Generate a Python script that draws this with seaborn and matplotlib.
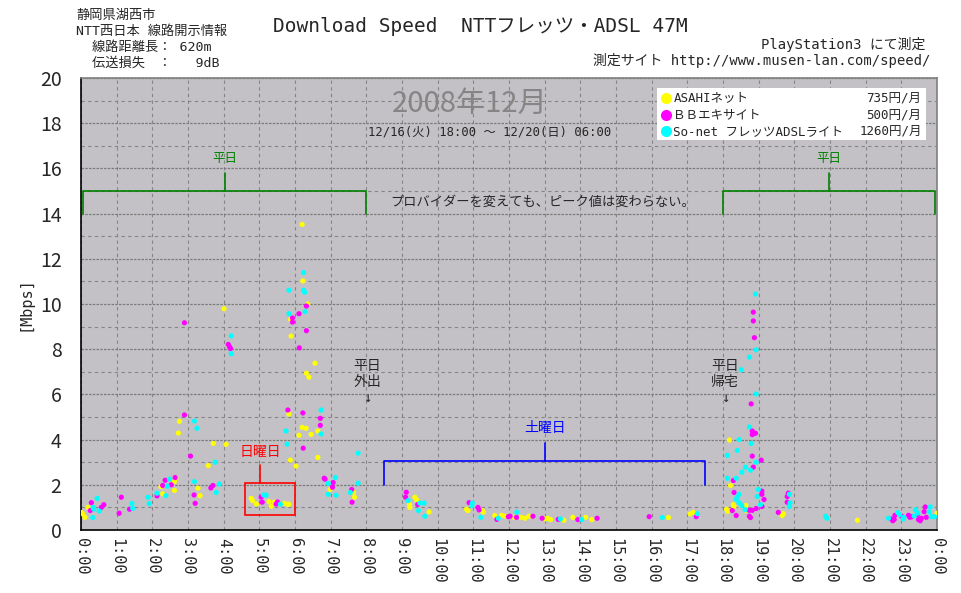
import matplotlib
matplotlib.use("Agg")
import numpy as np
import pandas as pd
import matplotlib.pyplot as plt
from matplotlib.patches import Rectangle
import seaborn as sns


# --- data (hour of day, Mbps) ---
providers = ["ASAHIネット", "ＢＢエキサイト", "So-net フレッツADSLライト"]
prices = ["735円/月", "500円/月", "1260円/月"]
colors = ["#ffff00", "#ff00ff", "#00ffff"]

asahi = [
    (0.0, 0.78), (0.05, 0.71), (0.11, 0.56), (0.2, 1.0),
    (2.24, 1.92), (2.29, 1.6), (2.62, 2.14), (2.62, 1.75), (2.66, 2.29),
    (2.73, 4.29), (2.76, 4.81), (3.28, 1.85), (3.34, 1.52), (3.57, 2.85),
    (3.71, 3.83), (4.01, 9.79), (4.07, 3.79), (4.77, 1.4), (4.81, 1.3),
    (4.92, 1.15), (5.27, 1.26), (5.33, 1.05), (5.42, 1.23), (5.51, 1.18),
    (5.7, 1.18), (5.79, 1.14), (5.83, 1.14), (5.83, 5.13), (5.87, 9.32),
    (5.89, 8.58), (5.87, 3.09), (6.03, 2.83), (6.11, 4.19), (6.2, 13.52),
    (6.22, 11.02), (6.2, 4.54), (6.31, 4.5), (6.36, 10.0), (6.32, 6.94),
    (6.39, 6.76), (6.45, 4.23), (6.56, 7.38), (6.64, 3.21), (6.64, 4.38),
    (6.98, 1.79), (7.64, 1.67), (7.67, 1.45),
    (9.21, 1.13), (9.22, 1.0), (9.36, 1.45), (9.41, 1.33), (9.76, 0.8),
    (10.81, 0.92), (10.85, 0.86), (11.25, 0.86), (11.28, 0.79), (11.6, 0.64),
    (11.79, 0.65), (11.89, 0.61), (12.15, 0.56), (12.34, 0.56), (12.45, 0.52),
    (12.56, 0.61), (13.01, 0.49), (13.08, 0.52), (13.17, 0.46), (13.54, 0.43),
    (13.79, 0.56), (14.15, 0.56), (14.32, 0.46),
    (16.47, 0.55), (17.08, 0.71), (17.16, 0.78),
    (18.1, 0.92), (18.13, 0.83), (18.18, 3.98), (18.21, 1.97), (18.29, 1.12),
    (18.31, 1.04), (18.64, 1.08), (18.64, 0.87), (19.66, 0.64), (19.69, 0.72),
    (21.77, 0.43), (24.0, 0.74),
]

bbexcite = [
    (0.26, 0.86), (0.29, 1.21), (0.57, 1.0), (0.64, 1.12), (1.07, 0.74),
    (1.13, 1.45), (1.36, 0.92), (2.13, 1.51), (2.29, 1.97), (2.36, 2.2),
    (2.53, 2.0), (2.64, 2.32), (2.9, 9.17), (2.9, 5.09), (3.07, 3.27),
    (3.17, 1.55), (3.2, 1.18), (3.64, 1.86), (3.7, 1.97), (4.13, 8.21),
    (4.17, 8.09), (4.19, 8.03), (5.05, 1.45), (5.08, 1.23), (5.47, 1.15),
    (5.51, 1.24), (5.8, 5.31), (5.93, 9.2), (5.93, 9.38), (6.11, 9.57),
    (6.12, 8.06), (6.22, 5.18), (6.23, 3.62), (6.32, 9.91), (6.32, 8.82),
    (6.71, 4.94), (6.71, 4.63), (6.82, 2.29), (6.84, 2.25), (7.07, 2.1),
    (7.05, 1.89), (7.59, 1.79), (7.6, 1.23),
    (9.1, 1.45), (9.12, 1.67), (9.44, 1.13), (10.88, 1.21), (11.13, 1.0),
    (11.16, 0.89), (11.66, 0.47), (11.98, 0.59), (12.03, 0.61), (12.21, 0.56),
    (12.67, 0.61), (12.93, 0.52), (13.38, 0.47), (13.93, 0.46), (14.47, 0.52),
    (15.93, 0.59), (17.25, 0.59),
    (18.26, 0.86), (18.29, 2.19), (18.31, 1.66), (18.37, 0.64), (18.74, 0.87),
    (18.74, 0.61), (18.77, 0.55), (18.79, 5.58), (18.82, 0.87), (18.82, 4.38),
    (18.82, 4.22), (18.82, 3.27), (18.85, 9.64), (18.85, 9.25), (18.85, 2.78),
    (18.88, 8.51), (18.91, 4.28), (18.93, 0.95), (19.07, 3.09), (19.09, 1.72),
    (19.09, 1.58), (19.09, 1.04), (19.15, 1.35), (19.55, 0.78), (19.8, 1.48),
    (19.8, 1.23), (19.83, 1.63),
    (22.72, 0.49), (22.76, 0.41), (22.8, 0.47), (22.82, 0.65), (23.01, 0.61),
    (23.2, 0.65), (23.24, 0.56), (23.3, 0.59), (23.45, 0.68), (23.48, 0.46),
    (23.53, 0.41), (23.56, 0.52), (23.64, 0.81), (23.67, 1.02), (23.7, 0.56),
]

sonet = [
    (0.33, 0.55), (0.34, 1.0), (0.36, 0.93), (0.45, 1.4), (0.51, 0.84),
    (1.43, 1.17), (1.45, 0.96), (1.88, 1.45), (1.91, 1.17), (2.13, 1.63),
    (2.38, 1.52), (2.42, 1.94), (2.48, 2.25), (3.18, 2.14), (3.18, 4.82),
    (3.25, 4.5), (3.76, 3.0), (3.79, 1.66), (3.88, 2.03), (4.21, 8.59),
    (4.21, 7.8), (5.12, 1.55), (5.19, 1.54), (5.59, 1.14), (5.75, 4.38),
    (5.78, 3.8), (5.83, 10.61), (5.83, 9.57), (6.24, 11.39), (6.24, 10.61),
    (6.27, 10.52), (6.28, 9.66), (6.73, 5.31), (6.73, 4.25), (6.93, 2.06),
    (6.93, 1.58), (7.13, 2.32), (7.15, 1.54), (7.55, 1.66), (7.77, 2.07),
    (7.77, 3.4),
    (9.17, 1.3), (9.46, 0.86), (9.5, 1.19), (9.62, 1.19), (9.64, 0.61),
    (10.96, 1.08), (10.97, 1.19), (11.21, 0.56), (11.7, 0.52), (12.22, 0.79),
    (13.44, 0.49), (14.04, 0.46), (16.3, 0.55), (17.28, 0.72),
    (18.12, 3.3), (18.12, 2.29), (18.37, 2.29), (18.37, 1.36), (18.4, 3.52),
    (18.4, 1.45), (18.45, 4.0), (18.45, 1.58), (18.45, 1.21), (18.51, 7.09),
    (18.53, 2.56), (18.53, 1.08), (18.62, 0.9), (18.63, 2.78), (18.74, 7.65),
    (18.74, 4.56), (18.77, 2.65), (18.79, 3.83), (18.91, 10.44), (18.93, 7.97),
    (18.93, 6.02), (18.93, 3.0), (18.96, 1.48), (18.99, 1.79), (19.05, 1.12),
    (19.86, 1.58), (19.88, 1.2), (19.86, 1.04),
    (20.88, 0.61), (20.91, 0.52), (22.64, 0.52), (22.9, 0.77), (22.95, 0.68),
    (23.05, 0.49), (23.07, 0.56), (23.36, 0.62), (23.4, 0.9), (23.46, 0.75),
    (23.78, 0.8), (23.81, 1.02), (23.84, 0.59), (23.93, 0.59),
]

hour_ticks = list(range(25))
hour_labels = [f"{h % 24}:00" for h in hour_ticks]

# annotation spans (hours / Mbps)
weekday_spans = [(0.05, 8.0), (18.0, 23.95)]
saturday_span = (8.5, 17.5)
sunday_box = (4.6, 6.0, 0.65, 2.1)

# --- build long table ---
rows = []
for name, pts in zip(providers, [asahi, bbexcite, sonet]):
    for h, v in pts:
        rows.append({"hour": h, "mbps": v, "provider": name})
df = pd.DataFrame(rows)

MONO = ["DejaVu Sans Mono", "Noto Sans CJK JP"]
sns.set_style("white")
plt.rcParams["font.family"] = MONO

fig = plt.figure(figsize=(9.61, 5.93), dpi=100)
ax = fig.add_axes([81 / 961, 1 - 530 / 593, 856 / 961, 452 / 593])
ax.set_facecolor("#c3c1c5")

sns.scatterplot(data=df, x="hour", y="mbps", hue="provider",
                palette=dict(zip(providers, colors)), s=14, linewidth=0,
                legend=False, ax=ax, zorder=3)

ax.set_xlim(0, 24)
ax.set_ylim(0, 20)
ax.set_xticks(hour_ticks)
ax.set_xticklabels(hour_labels, rotation=-90, fontsize=11)
ax.set_yticks(range(0, 21, 2))
ax.set_yticklabels([str(v) for v in range(0, 21, 2)], fontsize=14,
                   family=["Noto Sans CJK JP"])
ax.set_yticks(range(1, 20, 2), minor=True)
ax.tick_params(axis="both", which="both", length=0, pad=6)
ax.tick_params(axis="y", pad=14)
ax.set_xlabel("")
ax.set_ylabel("[Mbps]", fontsize=11, labelpad=5)

ax.grid(axis="x", which="major", color="#858585", lw=0.8, ls=(0, (3, 3)))
ax.grid(axis="y", which="major", color="#7a7a7a", lw=0.9, ls=(0, (2, 1)))
ax.grid(axis="y", which="minor", color="#858585", lw=0.8, ls=(0, (3, 3)))
ax.set_axisbelow(True)

for side in ["left", "bottom"]:
    ax.spines[side].set_color("black")
    ax.spines[side].set_linewidth(1.2)
for side in ["top", "right"]:
    ax.spines[side].set_color("#808080")
    ax.spines[side].set_linewidth(1.2)

# weekday brackets (green)
green = "#008000"
for x0, x1 in weekday_spans:
    ax.plot([x0, x0, x1, x1], [14.0, 15.0, 15.0, 14.0], color=green, lw=1.2)
    xm = (x0 + x1) / 2
    ax.plot([xm, xm], [15.0, 15.8], color=green, lw=1.2)
    ax.text(xm, 16.45, "平日", color=green, fontsize=9, ha="center", va="center")

ax.text(12.95, 14.5, "プロバイダーを変えても、ピーク値は変わらない。",
        fontsize=9.5, ha="center", va="center")

# saturday bracket (blue)
blue = "#0000ff"
x0, x1 = saturday_span
ax.plot([x0, x0, x1, x1], [2.0, 3.05, 3.05, 2.0], color=blue, lw=1.2)
xm = (x0 + x1) / 2
ax.plot([xm, xm], [3.05, 3.85], color=blue, lw=1.2)
ax.text(xm, 4.5, "土曜日", color=blue, fontsize=10, ha="center", va="center")

# sunday box (red)
red = "#ff0000"
bx0, bx1, by0, by1 = sunday_box
ax.add_patch(Rectangle((bx0, by0), bx1 - bx0, by1 - by0, fill=False,
                       edgecolor=red, lw=1.2, zorder=2))
ax.plot([5.02, 5.02], [by1, 2.88], color=red, lw=1.2)
ax.text(5.02, 3.45, "日曜日", color=red, fontsize=10, ha="center", va="center")

# weekday out / home notes
ax.text(8.02, 6.55, "平日\n外出\n↓", fontsize=10, ha="center", va="center",
        linespacing=1.2)
ax.text(18.05, 6.55, "平日\n帰宅\n↓", fontsize=10, ha="center", va="center",
        linespacing=1.2)

# month headline
ax.text(10.9, 18.85, "2008年12月", color="#858585", fontsize=21,
        ha="center", va="center", family=["Noto Sans CJK JP"])
ax.text(11.47, 17.6, "12/16(火) 18:00 ～ 12/20(日) 06:00", fontsize=8.8,
        ha="center", va="center")

# legend box
ax.add_patch(Rectangle((0.673, 0.863), 0.314, 0.115, transform=ax.transAxes,
                       facecolor="white", edgecolor="none", zorder=4))
for i, (name, price, c) in enumerate(zip(providers, prices, colors)):
    yy = 0.956 - i * 0.037
    ax.plot([0.683], [yy], marker="o", ms=8, color=c, mec="none",
            transform=ax.transAxes, zorder=5, clip_on=False)
    ax.text(0.692, yy, name, fontsize=9, va="center", ha="left",
            transform=ax.transAxes, zorder=5)
    ax.text(0.982, yy, price, fontsize=9, va="center", ha="right",
            transform=ax.transAxes, zorder=5)

# header texts
fig.text(480 / 961, 1 - 27 / 593, "Download Speed  NTTフレッツ・ADSL 47M",
         fontsize=14, ha="center", va="center")
info = ["静岡県湖西市", "NTT西日本 線路開示情報", "  線路距離長： 620m", "  伝送損失　：   9dB"]
for i, line in enumerate(info):
    fig.text(76 / 961, 1 - (15 + 16 * i) / 593, line, fontsize=9.5,
             ha="left", va="center")
fig.text(925 / 961, 1 - 45 / 593, "PlayStation3 にて測定", fontsize=10,
         ha="right", va="center")
fig.text(930 / 961, 1 - 61 / 593, "測定サイト http://www.musen-lan.com/speed/",
         fontsize=10, ha="right", va="center")

fig.savefig("out.png", dpi=100, facecolor="white")
